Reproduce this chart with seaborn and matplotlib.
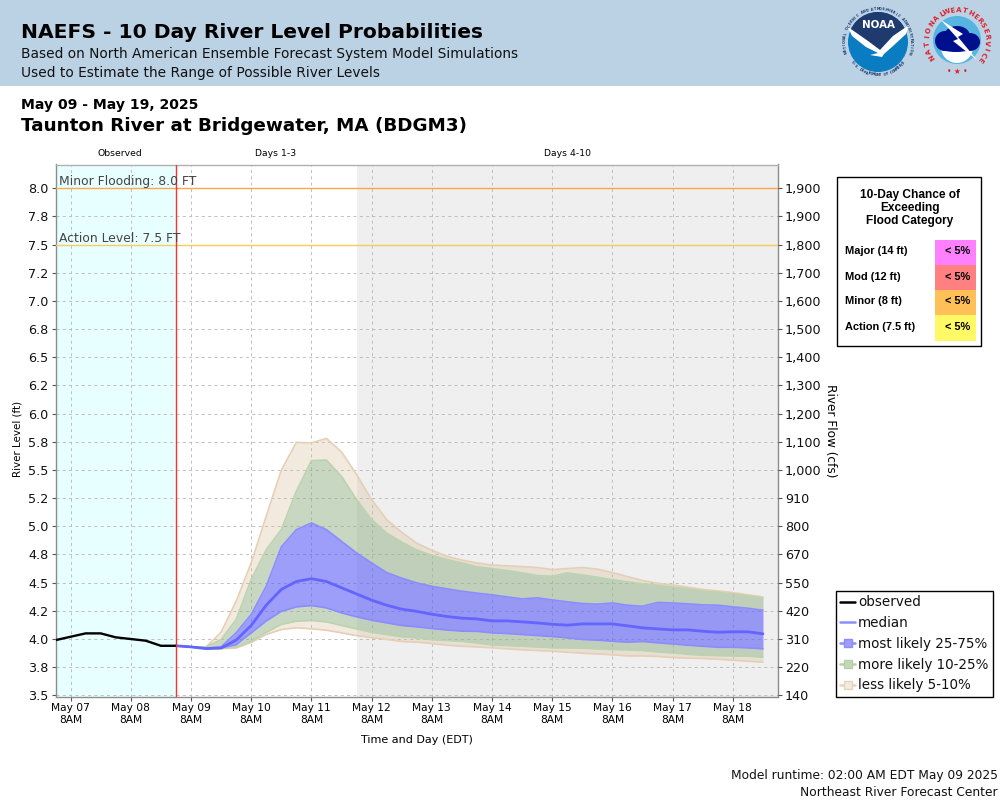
# NAEFS river level probabilities, Taunton River at Bridgewater
import numpy as np
import pandas as pd
import matplotlib
matplotlib.use('Agg')
import matplotlib.pyplot as plt
import matplotlib.dates as mdates
from matplotlib.lines import Line2D
from matplotlib.patches import Circle, Ellipse, Polygon, Rectangle
import seaborn as sns

# Values (6 hourly, feet)
observed = [3.99, 4.02, 4.05, 4.05, 4.015, 4.0, 3.985, 3.94, 3.94]
median = [3.94, 3.93, 3.915, 3.92, 3.99, 4.12, 4.30, 4.44, 4.51, 4.535, 4.51, 4.455, 4.40, 4.345, 4.30, 4.265, 4.245, 4.22, 4.20, 4.185,
          4.178, 4.161, 4.161, 4.152, 4.143, 4.131, 4.123, 4.134, 4.134, 4.134, 4.117, 4.099, 4.09, 4.081, 4.081, 4.069, 4.06, 4.064, 4.064, 4.046]
p25 = [3.94, 3.93, 3.915, 3.92, 3.95, 4.055, 4.16, 4.245, 4.285, 4.297, 4.276, 4.232, 4.197, 4.167, 4.143, 4.12, 4.108, 4.093, 4.08, 4.07,
       4.068, 4.055, 4.049, 4.04, 4.031, 4.022, 4.01, 3.996, 3.99, 3.98, 3.972, 3.978, 3.966, 3.957, 3.945, 3.936, 3.927, 3.927, 3.922, 3.913]
p75 = [3.94, 3.93, 3.92, 3.93, 4.055, 4.217, 4.468, 4.817, 4.97, 5.03, 4.97, 4.867, 4.764, 4.675, 4.59, 4.54, 4.498, 4.468, 4.445, 4.424,
       4.407, 4.392, 4.374, 4.356, 4.365, 4.347, 4.33, 4.315, 4.309, 4.32, 4.30, 4.291, 4.324, 4.32, 4.312, 4.303, 4.30, 4.285, 4.273, 4.256]
p10 = [3.94, 3.93, 3.92, 3.915, 3.928, 3.98, 4.06, 4.13, 4.158, 4.165, 4.152, 4.12, 4.09, 4.06, 4.04, 4.02, 4.01, 3.995, 3.987, 3.98,
       3.965, 3.948, 3.942, 3.936, 3.93, 3.922, 3.922, 3.919, 3.913, 3.907, 3.904, 3.898, 3.886, 3.877, 3.865, 3.856, 3.853, 3.85, 3.848, 3.839]
p90 = [3.94, 3.93, 3.93, 3.995, 4.173, 4.527, 4.793, 4.97, 5.31, 5.582, 5.588, 5.443, 5.237, 5.06, 4.94, 4.86, 4.79, 4.743, 4.705, 4.675,
       4.64, 4.625, 4.607, 4.587, 4.563, 4.557, 4.587, 4.569, 4.548, 4.527, 4.507, 4.489, 4.477, 4.462, 4.445, 4.427, 4.415, 4.40, 4.383, 4.362]
p05 = [3.94, 3.93, 3.92, 3.915, 3.92, 3.97, 4.04, 4.084, 4.10, 4.09, 4.078, 4.055, 4.03, 4.013, 3.996, 3.978, 3.972, 3.96, 3.945, 3.936,
       3.93, 3.922, 3.913, 3.904, 3.898, 3.892, 3.883, 3.874, 3.868, 3.86, 3.85, 3.85, 3.845, 3.836, 3.83, 3.827, 3.821, 3.812, 3.803, 3.795]
p95 = [3.94, 3.93, 3.93, 4.06, 4.335, 4.675, 5.09, 5.497, 5.745, 5.74, 5.78, 5.66, 5.46, 5.237, 5.06, 4.947, 4.85, 4.788, 4.734, 4.70,
       4.675, 4.657, 4.649, 4.643, 4.634, 4.616, 4.625, 4.634, 4.62, 4.59, 4.554, 4.519, 4.495, 4.48, 4.46, 4.44, 4.427, 4.412, 4.392, 4.374]

level_ticks = [3.5, 3.75, 4.0, 4.25, 4.5, 4.75, 5.0, 5.25, 5.5, 5.75, 6.0, 6.25, 6.5, 6.75, 7.0, 7.25, 7.5, 7.75, 8.0]
level_labels = ['3.5', '3.8', '4.0', '4.2', '4.5', '4.8', '5.0', '5.2', '5.5', '5.8', '6.0', '6.2', '6.5', '6.8', '7.0', '7.2', '7.5', '7.8', '8.0']
flow_labels = ['140', '220', '310', '420', '550', '670', '800', '910', '1,000', '1,100', '1,200', '1,300', '1,400', '1,500', '1,600', '1,700', '1,800', '1,900', '1,900']

category_names = ['Major (14 ft)', 'Mod (12 ft)', 'Minor (8 ft)', 'Action (7.5 ft)']
category_colors = ['#FF80FF', '#FF8080', '#FFC057', '#FFF966']
category_chance = ['< 5%', '< 5%', '< 5%', '< 5%']

# Time axis
obs_time = pd.date_range('2025-05-07 02:00', periods=len(observed), freq='6h')
fc_time = pd.date_range('2025-05-09 02:00', periods=len(median), freq='6h')
obs_df = pd.DataFrame({'time': obs_time, 'level': observed})
med_df = pd.DataFrame({'time': fc_time, 'level': median})

sns.set_theme(style='white')
plt.rcParams['font.family'] = ['DejaVu Sans']

fig = plt.figure(figsize=(10, 8), dpi=100)

# Page furniture in pixel coordinates
page = fig.add_axes([0, 0, 1, 1], zorder=0)
page.set_xlim(0, 1000)
page.set_ylim(800, 0)
page.axis('off')
page.add_patch(Rectangle((0, 0), 1000, 86, color='#BBD2E5', lw=0))
page.text(21, 33, 'NAEFS - 10 Day River Level Probabilities', fontsize=14.55, fontweight='bold', color='black', va='center')
page.text(21, 54, 'Based on North American Ensemble Forecast System Model Simulations', fontsize=9.88, color='#111111', va='center')
page.text(21, 73, 'Used to Estimate the Range of Possible River Levels', fontsize=9.88, color='#111111', va='center')
page.text(21, 105, 'May 09 - May 19, 2025', fontsize=10.05, fontweight='bold', color='black', va='center')
page.text(21, 126, 'Taunton River at Bridgewater, MA (BDGM3)', fontsize=13.2, fontweight='bold', color='black', va='center')
page.text(120, 154, 'Observed', fontsize=6.7, color='black', ha='center', va='center')
page.text(276, 154, 'Days 1-3', fontsize=6.7, color='black', ha='center', va='center')
page.text(567, 154, 'Days 4-10', fontsize=6.7, color='black', ha='center', va='center')
page.text(998, 776, 'Model runtime: 02:00 AM EDT May 09 2025', fontsize=8.8, color='#111111', ha='right', va='center')
page.text(998, 792, 'Northeast River Forecast Center', fontsize=8.8, color='#111111', ha='right', va='center')


def arc_text(text, cx, cy, r, start, end, color, size, inward=False):
    # one letter at a time round a circle, angles in degrees clockwise from the top
    for ch, a in zip(text, np.linspace(start, end, len(text))):
        t = np.radians(a)
        rot = 180 - a if inward else -a
        page.text(cx + r * np.sin(t), cy - r * np.cos(t), ch, fontsize=size, fontweight='bold', color=color,
                  rotation=rot, ha='center', va='center', rotation_mode='anchor')


# NOAA logo
noaa = Circle((878, 42), 30, color='#0A7CC1', lw=0)
page.add_patch(noaa)
navy = Polygon([(845, 5), (911, 5), (911, 25), (893, 36), (880, 50), (868, 42), (846, 26)], color='#1F3A6E', lw=0)
page.add_patch(navy)
navy.set_clip_path(noaa)
bird = Polygon([(848, 27), (868, 41), (880, 50), (893, 36), (909, 25), (906, 34), (893, 46), (884, 54), (882, 57), (870, 55), (878, 53), (866, 47), (852, 36)], color='white', lw=0)
page.add_patch(bird)
page.text(878, 25, 'NOAA', fontsize=7.4, fontweight='bold', color='white', ha='center', va='center')
arc_text('NATIONAL OCEANIC AND ATMOSPHERIC ADMINISTRATION', 878, 42, 33, -108, 108, '#1F3A6E', 2.4)
arc_text('U.S. DEPARTMENT OF COMMERCE', 878, 42, 33, 232, 128, '#1F3A6E', 2.4, inward=True)

# NWS logo
page.add_patch(Circle((957, 40), 24, color='#55B5E0', lw=0))
page.add_patch(Circle((957, 47), 16, color='white', lw=0))
for ex, ey, ew, eh in [(945, 41, 20, 20), (957, 36, 26, 20), (970, 42, 20, 18), (956, 46, 38, 12)]:
    page.add_patch(Ellipse((ex, ey), ew, eh, color='#00108C', lw=0))
page.add_patch(Polygon([(941, 20), (963, 34), (958, 37), (977, 60), (953, 41), (958, 39)], color='white', lw=0))
arc_text('NATIONAL', 957, 40, 30, -125, -30, '#E0202A', 5)
arc_text('WEATHER', 957, 40, 30, -20, 50, '#E0202A', 5)
arc_text('SERVICE', 957, 40, 30, 60, 130, '#E0202A', 5)
page.text(957, 71, '\u2022 \u2605 \u2022', fontsize=5.5, color='#E0202A', ha='center', va='center')

# Main chart
left, right, top, bottom = 55.5, 778, 164.5, 696.5
ax = fig.add_axes([left / 1000, 1 - bottom / 800, (right - left) / 1000, (bottom - top) / 800], zorder=1)
ax.set_facecolor('white')
ax.set_xlim(pd.Timestamp('2025-05-07 02:00'), pd.Timestamp('2025-05-19 02:00'))
ax.set_ylim(3.49, 8.21)

ax.axvspan(pd.Timestamp('2025-05-07 02:00'), pd.Timestamp('2025-05-09 02:00'), color='#E8FFFF', lw=0, zorder=0)
ax.axvspan(pd.Timestamp('2025-05-12 02:00'), pd.Timestamp('2025-05-19 02:00'), color='#EFEFEF', lw=0, zorder=0)
ax.grid(True, color='#BDBDBD', linestyle=(0, (3, 3.5)), linewidth=0.7, zorder=1)
ax.set_axisbelow(True)

# Bands, outer first
band_kw = dict(lw=0, zorder=2)
ax.fill_between(fc_time, p90, p95, color='#D7BC98', alpha=0.3, **band_kw)
ax.fill_between(fc_time, p05, p10, color='#D7BC98', alpha=0.3, **band_kw)
ax.fill_between(fc_time, p75, p90, color='#93B185', alpha=0.5, **band_kw)
ax.fill_between(fc_time, p10, p25, color='#93B185', alpha=0.5, **band_kw)
ax.fill_between(fc_time, p25, p75, color='#5C5CF8', alpha=0.6, **band_kw)
for vals, col in [(p95, '#E5CFB5'), (p05, '#E5CFB5'), (p90, '#BBD3AE'), (p10, '#BBD3AE'), (p75, '#8C8CFF'), (p25, '#8C8CFF')]:
    ax.plot(fc_time, vals, color=col, lw=1.2, zorder=3)

sns.lineplot(data=med_df, x='time', y='level', color='#6464FF', lw=2, ax=ax, zorder=4, errorbar=None)
sns.lineplot(data=obs_df, x='time', y='level', color='black', lw=1.7, ax=ax, zorder=5, errorbar=None)

ax.axhline(8.0, color='#FFA54A', lw=1, zorder=3)
ax.axhline(7.5, color='#F9CB5A', lw=1, zorder=3)
ax.axvline(pd.Timestamp('2025-05-09 02:00'), color='#FF3030', lw=1, zorder=6)
ax.text(0.0045, 8.0, 'Minor Flooding: 8.0 FT', transform=ax.get_yaxis_transform(), fontsize=8.9, color='#444444', va='bottom', zorder=7)
ax.text(0.0045, 7.5, 'Action Level: 7.5 FT', transform=ax.get_yaxis_transform(), fontsize=8.9, color='#444444', va='bottom', zorder=7)

ax.xaxis.set_major_locator(mdates.HourLocator(byhour=[8]))
ax.xaxis.set_major_formatter(mdates.DateFormatter('%b %d\n%-I%p'))
ax.set_yticks(level_ticks)
ax.set_yticklabels(level_labels)
ax.tick_params(axis='x', labelsize=7.7, length=3, width=0.8, color='#555555', pad=2, labelcolor='black', bottom=True)
ax.tick_params(axis='y', labelsize=9.2, length=3, width=0.8, color='#555555', pad=2, labelcolor='#111111', left=True)
ax.set_xlabel('Time and Day (EDT)', fontsize=8, color='black', labelpad=7)
ax.set_ylabel('River Level (ft)', fontsize=7.4, color='black', labelpad=4, y=0.485)

for name, sp in ax.spines.items():
    sp.set_color('#B0B0B0' if name == 'top' else '#8C8C8C')
    sp.set_linewidth(1)
    sp.set_visible(True)

# Flow scale on the right, same ticks as the level axis
ax2 = ax.twinx()
ax2.set_ylim(ax.get_ylim())
ax2.grid(False)
ax2.set_yticks(level_ticks)
ax2.set_yticklabels(flow_labels)
ax2.tick_params(axis='y', labelsize=9.2, length=3, width=0.8, color='#555555', pad=2, labelcolor='#111111', right=True)
ax2.set_ylabel('River Flow (cfs)', fontsize=8.7, color='black', rotation=270, labelpad=11)
for sp in ax2.spines.values():
    sp.set_visible(False)

# Chance of exceeding table, pixel coordinates again
over = fig.add_axes([0, 0, 1, 1], zorder=3)
over.set_xlim(0, 1000)
over.set_ylim(800, 0)
over.axis('off')
over.add_patch(Rectangle((836.5, 176.5), 144, 169, fc='white', ec='black', lw=1))
table_font = 'Liberation Sans'
for txt, yy in [('10-Day Chance of', 195), ('Exceeding', 208), ('Flood Category', 221)]:
    over.text(910, yy, txt, family=table_font, fontsize=8.6, fontweight='bold', color='black', ha='center', va='center')
for i, (name, col, val) in enumerate(zip(category_names, category_colors, category_chance)):
    y0 = 240 + i * 25
    over.add_patch(Rectangle((935, y0), 41, 25.5, color=col, lw=0))
    over.text(845, y0 + 11.5, name, family=table_font, fontsize=7.9, fontweight='bold', color='black', va='center')
    over.text(970, y0 + 11.5, val, family=table_font, fontsize=7.9, fontweight='bold', color='black', ha='right', va='center')

# Legend
handles = [
    Line2D([], [], color='black', lw=1.8),
    Line2D([], [], color='#8C8CFF', lw=1.8),
    Line2D([], [], color='#8C8CFF', lw=1.8, marker='s', ms=5.5, mfc='#9D9DFB', mec='#8C8CFF'),
    Line2D([], [], color='#B5D0A8', lw=1.8, marker='s', ms=5.5, mfc='#C0D8B8', mec='#B5D0A8'),
    Line2D([], [], color='#E8D3BC', lw=1.8, marker='s', ms=5.5, mfc='#F3EBE0', mec='#E8D3BC'),
]
labels = ['observed', 'median', 'most likely 25-75%', 'more likely 10-25%', 'less likely 5-10%']
leg = over.legend(handles, labels, loc='upper left', bbox_to_anchor=(0.8355, 1 - 591 / 800), fontsize=9.75,
                  frameon=True, fancybox=False, framealpha=1, edgecolor='black', handlelength=1.15,
                  handletextpad=0.2, labelspacing=0.5, borderpad=0.32, borderaxespad=0, labelcolor='#111111')
leg.get_frame().set_linewidth(1)

plt.savefig('out.png', dpi=100)
